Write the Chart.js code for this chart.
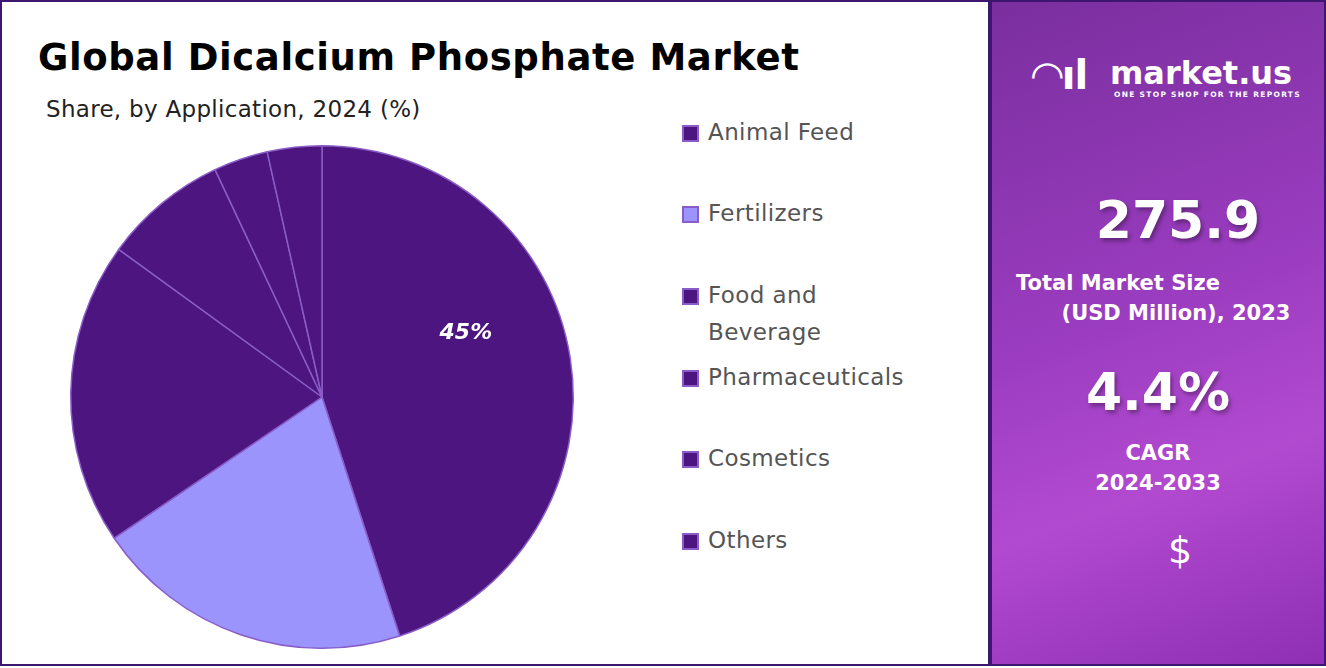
<!DOCTYPE html>
<html>
<head>
<meta charset="utf-8">
<script src="https://cdn.jsdelivr.net/npm/chart.js@4.4.1/dist/chart.umd.min.js"></script>
<style>
  body { margin: 0; width: 1326px; height: 668px; overflow: hidden; background: #fff; font-family: "DejaVu Sans", sans-serif; }
  #left { position: absolute; left: 0; top: 0; width: 986px; height: 662px; border: 2px solid #3d1670; background: #fff; }
  #right { position: absolute; left: 990px; top: 0; width: 332px; height: 662px; border: 2px solid #3d1670;
    background: linear-gradient(160deg, #7a2f9e 0%, #9a3cbf 45%, #b24ad0 70%, #8e2fb4 100%); color: #fff; text-align: center; }
  h1 { position: absolute; left: 36px; top: 34px; margin: 0; font-size: 37px; font-weight: bold; color: #000; letter-spacing: 0.6px; }
  #sub { position: absolute; left: 44px; top: 94px; font-size: 23px; color: #222; letter-spacing: 0.3px; }
  #chartBox { position: absolute; left: 60px; top: 135px; width: 520px; height: 520px; }
  .leg { position: absolute; left: 680px; font-size: 23px; color: #555; line-height: 37px; padding-left: 26px; letter-spacing: 0.4px; }
  .leg i { position: absolute; left: 0; top: 11px; width: 17px; height: 17px; border: 2px solid #8a5cc8; box-sizing: border-box; }
  .big { position: absolute; width: 100%; font-weight: bold; font-size: 52px; text-shadow: 2px 3px 4px rgba(0,0,0,0.35); }
  .lbl { position: absolute; width: 100%; font-weight: bold; font-size: 21px; line-height: 30px; }
</style>
</head>
<body>
<div id="left">
  <h1>Global Dicalcium Phosphate Market</h1>
  <div id="sub">Share, by Application, 2024 (%)</div>
  <div id="chartBox"><canvas id="pie" width="520" height="520"></canvas></div>
  <div id="legend"></div>
</div>
<div id="right">
  <div style="position:absolute;left:40px;top:50px;width:280px;text-align:left">
    <span style="font-size:40px;font-weight:bold;letter-spacing:-1px">&#x25E0;ıl</span>
    <span style="font-size:32px;font-weight:bold;position:absolute;left:78px;top:2px">market.us</span>
    <div style="position:absolute;left:82px;top:38px;font-size:7.5px;font-weight:bold;letter-spacing:1.3px">ONE STOP SHOP FOR THE REPORTS</div>
  </div>
  <div class="big" style="top:188px;left:20px">275.9</div>
  <div class="lbl" style="top:266px;left:-40px">Total Market Size</div>
  <div class="lbl" style="top:296px;left:18px">(USD Million), 2023</div>
  <div class="big" style="top:360px;left:0px">4.4%</div>
  <div class="lbl" style="top:436px;left:0px">CAGR<br>2024-2033</div>
  <div style="position:absolute;left:176px;top:526px;font-size:38px;">$</div>
</div>
<script>
const categories = ['Animal Feed', 'Fertilizers', 'Food and Beverage', 'Pharmaceuticals', 'Cosmetics', 'Others'];
const shares = [45, 20.5, 19.5, 8, 3.5, 3.5];
const sliceColors = ['#4c1580', '#9a94fc', '#4c1580', '#4c1580', '#4c1580', '#4c1580'];
const legendTops = [112, 193, 275, 357, 438, 520];
const legendText = ['Animal Feed', 'Fertilizers', 'Food and<br>Beverage', 'Pharmaceuticals', 'Cosmetics', 'Others'];

const legend = document.getElementById('legend');
categories.forEach((c, i) => {
  const d = document.createElement('div');
  d.className = 'leg';
  d.style.top = legendTops[i] + 'px';
  d.innerHTML = '<i style="background:' + sliceColors[i] + '"></i>' + legendText[i];
  legend.appendChild(d);
});

const pctLabel = {
  id: 'pctLabel',
  afterDatasetsDraw(chart) {
    const ctx = chart.ctx;
    const arc = chart.getDatasetMeta(0).data[0];
    const mid = (arc.startAngle + arc.endAngle) / 2;
    const r = arc.outerRadius * 0.6;
    ctx.save();
    ctx.fillStyle = '#fff';
    ctx.font = 'italic bold 22px "DejaVu Sans"';
    ctx.textAlign = 'center';
    ctx.textBaseline = 'middle';
    ctx.fillText(shares[0] + '%', arc.x + Math.cos(mid) * r - 5, arc.y + Math.sin(mid) * r - 40);
    ctx.restore();
  }
};

new Chart(document.getElementById('pie'), {
  type: 'pie',
  data: {
    labels: categories,
    datasets: [{ data: shares, backgroundColor: sliceColors, borderColor: '#8a5cc8', borderWidth: 1.5 }]
  },
  options: {
    responsive: false,
    animation: false,
    layout: { padding: 8 },
    plugins: { legend: { display: false }, tooltip: { enabled: false } }
  },
  plugins: [pctLabel]
});
</script>
</body>
</html>
